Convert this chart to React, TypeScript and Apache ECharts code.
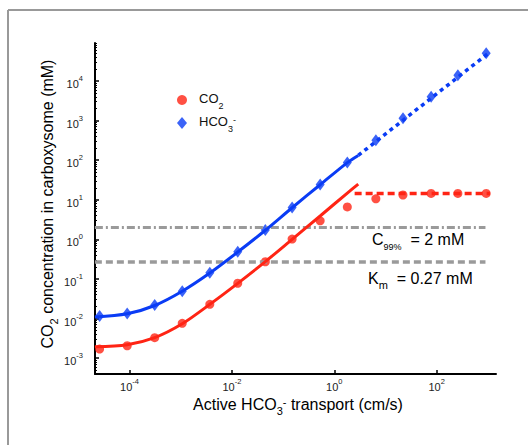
import React, { useEffect, useRef } from "react";
import * as echarts from "echarts";

// ---- data ----
const transport = [2.6e-5, 9.0e-5, 3.1e-4, 1.07e-3, 3.7e-3, 1.3e-2, 4.5e-2, 0.15, 0.53, 1.8, 6.5, 22, 78, 260, 930];
const co2Points = [0.0017, 0.00206, 0.0033, 0.0076, 0.0229, 0.078, 0.272, 1.02, 2.95, 6.6, 10.6, 13.2, 14.5, 14.5, 14.5];
const hco3Points = [0.0116, 0.0135, 0.022, 0.049, 0.144, 0.49, 1.72, 6.4, 24.5, 88, 320, 1140, 4000, 14000, 50000];

const fitTransport = [2.1e-5, 9.0e-5, 3.1e-4, 1.07e-3, 3.7e-3, 1.3e-2, 4.5e-2, 0.15, 0.53, 1.8, 2.94];
const co2Fit = [0.00195, 0.00219, 0.0033, 0.0074, 0.0229, 0.0776, 0.275, 1.0, 3.9, 14.8, 25];
const hco3Fit = [0.011, 0.0132, 0.0214, 0.049, 0.141, 0.479, 1.7, 6.3, 24, 87, 132];

const co2ExtTransport = [2.5, 1100];
const co2Plateau = [14.5, 14.5];
const hco3ExtTransport = [2.94, 1100];
const hco3Ext = [132, 54000];

const thresholdTransport = [2.1e-5, 900];
const c99 = [2, 2];
const km = [0.27, 0.27];

const xTickExps = [-4, -2, 0, 2];
const yTickExps = [-3, -2, -1, 0, 1, 2, 3, 4];

const X_MIN = -4.675;
const X_MAX = 3.16;
const Y_MIN = -3.4;
const Y_MAX = 4.96;

const RED = "#ff2414";
const BLUE = "#0a3cf5";
const GRAY = "#9a9a9a";
const FONT = "Liberation Sans, Arial, Helvetica, sans-serif";

const lg = (v: number) => Math.log10(v);
const pairs = (xs: number[], ys: number[]) => xs.map((x, i) => [lg(x), lg(ys[i])]);

const yMinor: number[] = [];
for (let e = -4; e <= 4; e++) {
  for (let k = 2; k <= 9; k++) {
    const v = e + Math.log10(k);
    if (v > Y_MIN && v < Y_MAX) yMinor.push(v);
  }
}

const titleRich = {
  a: { fontSize: 16, lineHeight: 18, verticalAlign: "top", fontFamily: FONT, color: "#111" },
  sub: { fontSize: 11, lineHeight: 12, padding: [9, 0, 0, 0], verticalAlign: "top", fontFamily: FONT, color: "#111" },
  sup: { fontSize: 11, lineHeight: 12, verticalAlign: "top", fontFamily: FONT, color: "#111" },
  subs: { fontSize: 9, lineHeight: 10, padding: [11, 0, 0, 0], verticalAlign: "top", fontFamily: FONT, color: "#111" },
};

const legendRich = {
  a: { fontSize: 13, lineHeight: 16, verticalAlign: "top", fontFamily: FONT, color: "#111" },
  sub: { fontSize: 9, lineHeight: 10, padding: [9, 0, 0, 0], verticalAlign: "top", fontFamily: FONT, color: "#111" },
  sup: { fontSize: 9, lineHeight: 10, verticalAlign: "top", fontFamily: FONT, color: "#111" },
};

const option: any = {
  animation: false,
  backgroundColor: "#ffffff",
  grid: { left: 95, top: 43, width: 401, height: 331, containLabel: false },
  xAxis: {
    type: "value",
    min: X_MIN,
    max: X_MAX,
    splitLine: { show: false },
    axisLine: { onZero: false, lineStyle: { color: "#000", width: 2 } },
    axisTick: { inside: true, length: 4, customValues: xTickExps, lineStyle: { color: "#000", width: 1.5 } },
    axisLabel: {
      customValues: xTickExps,
      margin: 3,
      formatter: (v: number) => `{b|10}{s|${v}}`,
      rich: {
        b: { fontSize: 11, lineHeight: 11, padding: [4, 0, 0, 0], verticalAlign: "top", fontFamily: FONT, color: "#222" },
        s: { fontSize: 7.5, lineHeight: 8, verticalAlign: "top", fontFamily: FONT, color: "#222" },
      },
    },
  },
  yAxis: [
    {
      type: "value",
      min: Y_MIN,
      max: Y_MAX,
      splitLine: { show: false },
      axisLine: { onZero: false, lineStyle: { color: "#000", width: 2 } },
      axisTick: { inside: true, length: 4, customValues: yTickExps, lineStyle: { color: "#000", width: 1.5 } },
      axisLabel: {
        customValues: yTickExps,
        margin: 12,
        verticalAlign: "middle",
        formatter: (v: number) => `{b|10}{s|${v}}`,
        rich: {
          b: { fontSize: 11, lineHeight: 13, padding: [4, 0, 4, 0], verticalAlign: "top", fontFamily: FONT, color: "#222" },
          s: { fontSize: 7.5, lineHeight: 9, verticalAlign: "top", fontFamily: FONT, color: "#222" },
        },
      },
    },
    {
      type: "value",
      min: Y_MIN,
      max: Y_MAX,
      position: "left",
      splitLine: { show: false },
      axisLine: { show: false, onZero: false },
      axisLabel: { show: false },
      axisTick: { inside: true, length: 2, customValues: yMinor, lineStyle: { color: "#000", width: 1 } },
    },
  ],
  legend: {
    orient: "vertical",
    left: 172,
    top: 87,
    itemWidth: 10,
    itemHeight: 12,
    itemGap: 5,
    symbolKeepAspect: true,
    data: [
      { name: "CO2", icon: "circle" },
      { name: "HCO3", icon: "diamond" },
    ],
    formatter: (name: string) => (name === "CO2" ? "{a|CO}{sub|2}" : "{a|HCO}{sub|3}{sup|-}"),
    textStyle: { rich: legendRich, padding: [0, 0, 0, 7] },
  },
  graphic: [
    { type: "line", shape: { x1: 8, y1: 10, x2: 528, y2: 10 }, style: { stroke: "#999", lineWidth: 2 } },
    { type: "line", shape: { x1: 8, y1: 10, x2: 8, y2: 445 }, style: { stroke: "#999", lineWidth: 2 } },
    {
      type: "text",
      x: 48,
      y: 204,
      rotation: Math.PI / 2,
      style: {
        text: "{a|CO}{sub|2}{a| concentration in carboxysome (mM)}",
        rich: titleRich,
        align: "center",
        verticalAlign: "middle",
      },
    },
    {
      type: "text",
      x: 298,
      y: 405,
      style: {
        text: "{a|Active HCO}{sub|3}{sup|-}{a| transport (cm/s)}",
        rich: titleRich,
        align: "center",
        verticalAlign: "middle",
      },
    },
    {
      type: "text",
      x: 372,
      y: 240,
      style: {
        text: "{a|C}{subs|99%}{a|  = 2 mM}",
        rich: titleRich,
        align: "left",
        verticalAlign: "middle",
      },
    },
    {
      type: "text",
      x: 368,
      y: 279,
      style: {
        text: "{a|K}{sub|m}{a|  = 0.27 mM}",
        rich: titleRich,
        align: "left",
        verticalAlign: "middle",
      },
    },
  ],
  series: [
    {
      name: "C99",
      type: "line",
      data: pairs(thresholdTransport, c99),
      showSymbol: false,
      silent: true,
      lineStyle: { color: GRAY, width: 3, type: [8, 3, 2, 3] },
    },
    {
      name: "Km",
      type: "line",
      data: pairs(thresholdTransport, km),
      showSymbol: false,
      silent: true,
      lineStyle: { color: GRAY, width: 3.5, type: [7, 4] },
    },
    {
      name: "HCO3 fit",
      type: "line",
      data: pairs(fitTransport, hco3Fit),
      smooth: 0.3,
      showSymbol: false,
      lineStyle: { color: BLUE, width: 3 },
    },
    {
      name: "HCO3 extrapolation",
      type: "line",
      data: pairs(hco3ExtTransport, hco3Ext),
      showSymbol: false,
      lineStyle: { color: BLUE, width: 3.5, type: [4, 4] },
    },
    {
      name: "CO2 fit",
      type: "line",
      data: pairs(fitTransport, co2Fit),
      smooth: 0.3,
      showSymbol: false,
      lineStyle: { color: RED, width: 3 },
    },
    {
      name: "CO2 plateau",
      type: "line",
      data: pairs(co2ExtTransport, co2Plateau),
      showSymbol: false,
      lineStyle: { color: RED, width: 3.5, type: [7, 4] },
    },
    {
      name: "CO2",
      type: "scatter",
      data: pairs(transport, co2Points),
      symbol: "circle",
      symbolSize: 9,
      itemStyle: { color: RED },
    },
    {
      name: "HCO3",
      type: "scatter",
      data: pairs(transport, hco3Points),
      symbol: "diamond",
      symbolSize: [9, 12],
      itemStyle: { color: BLUE },
    },
  ],
};

export default function App() {
  const ref = useRef<HTMLDivElement>(null);
  useEffect(() => {
    document.body.style.margin = "0";
    const chart = echarts.init(ref.current as HTMLDivElement, null, { renderer: "svg" });
    chart.setOption(option);
    return () => chart.dispose();
  }, []);
  return <div ref={ref} style={{ width: 528, height: 445, background: "#fff" }} />;
}
